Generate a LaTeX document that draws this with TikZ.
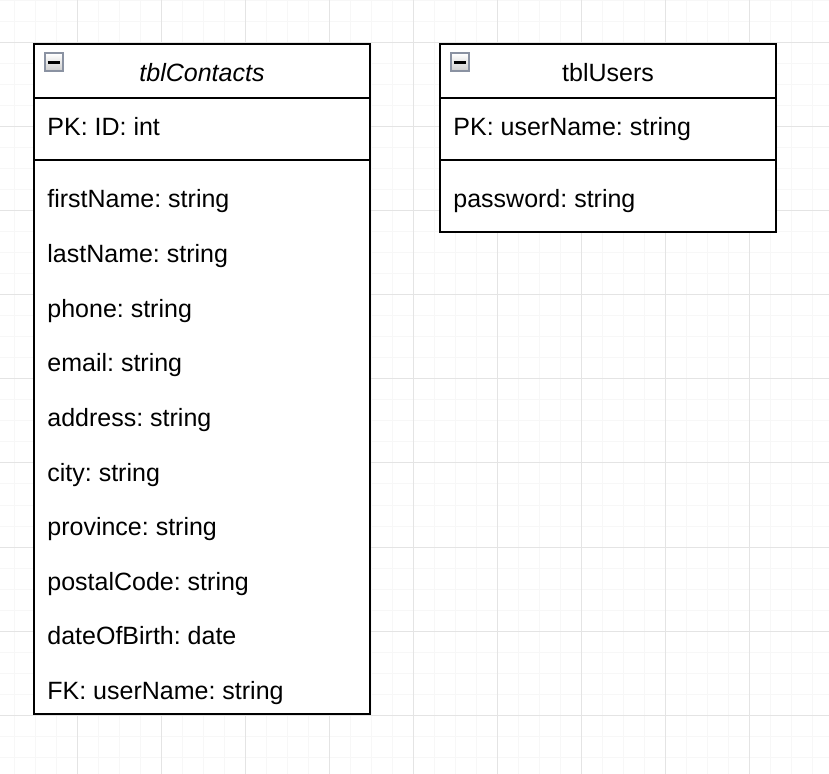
\documentclass[tikz,border=0pt]{standalone}
\usepackage{fontspec}
\setmainfont{Liberation Sans}
\frenchspacing

\definecolor{gridminor}{HTML}{F7F7F7}
\definecolor{gridmajor}{HTML}{E4E4E4}
\definecolor{iconborder}{HTML}{8A92A2}

\begin{document}
\begin{tikzpicture}[x=0.5pt,y=-0.5pt,
	tbl/.style={draw=black,line width=1pt},
	field/.style={anchor=base west,inner sep=0pt,font=\fontsize{12.5}{15}\selectfont},
	title/.style={anchor=base,inner sep=0pt,font=\fontsize{12.5}{15}\selectfont},
	collapse/.style={draw=iconborder,line width=1pt,top color=white,bottom color=gray!40}]
	\useasboundingbox (0,0) rectangle (829,774);
	\fill[white] (0,0) rectangle (829,774);
	% grid
	\foreach \k in {0,...,40} {
		\draw[gridminor,line width=0.5pt] ({-7+21*\k},0)--({-7+21*\k},774);
		\draw[gridminor,line width=0.5pt] (0,{1+21*\k})--(829,{1+21*\k});
	}
	\foreach \k in {0,...,10} {
		\draw[gridmajor,line width=0.5pt] ({-7+84*\k},0)--({-7+84*\k},774);
		\draw[gridmajor,line width=0.5pt] (0,{43+84*\k})--(829,{43+84*\k});
	}
	% tblContacts
	\draw[tbl,fill=white] (34,44) rectangle (370,714);
	\draw[tbl] (34,98)--(370,98);
	\draw[tbl] (34,160)--(370,160);
	\draw[collapse] (44.5,53.5) rectangle (62.5,71.5);
	\draw[line width=1.3pt] (47.5,62.5)--(59.5,62.5);
	\node[title,font=\fontsize{12.5}{15}\selectfont\itshape] (contactsTitle) at (202,82) {tblContacts};
	\node[field] (contactsPK) at (47,136) {PK: ID: int};
	\foreach \f [count=\i] in {firstName: string,lastName: string,phone: string,email: string,address: string,city: string,province: string,postalCode: string,dateOfBirth: date,FK: userName: string}
		\node[field] (contactsF\i) at (47,{208+54.6*(\i-1)}) {\f};
	% tblUsers
	\draw[tbl,fill=white] (440,44) rectangle (776,232);
	\draw[tbl] (440,98)--(776,98);
	\draw[tbl] (440,160)--(776,160);
	\draw[collapse] (450.5,53.5) rectangle (468.5,71.5);
	\draw[line width=1.3pt] (453.5,62.5)--(465.5,62.5);
	\node[title] (usersTitle) at (608,82) {tblUsers};
	\node[field] (usersPK) at (453,136) {PK: userName: string};
	\node[field] (usersF1) at (453,208) {password: string};
\end{tikzpicture}
\end{document}
